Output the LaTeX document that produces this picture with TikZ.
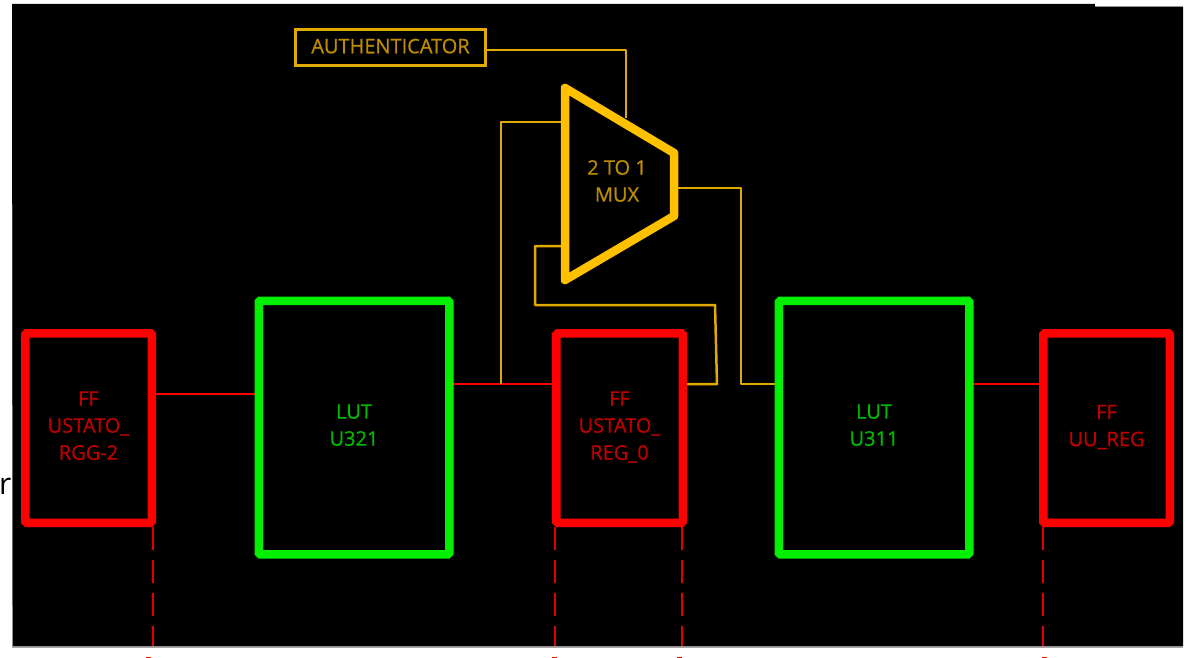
\documentclass[tikz,border=0pt]{standalone}
\usepackage{fontspec}
\setmainfont{Open Sans}
\newfontfamily\lblfam[FakeBold=0.7]{Open Sans}
\newcommand{\lbl}{\lblfam\fontsize{20}{27}\selectfont}
\definecolor{ffred}{RGB}{255,0,0}
\definecolor{ffredtxt}{RGB}{190,0,0}
\definecolor{lutgreen}{RGB}{0,240,0}
\definecolor{luttxt}{RGB}{0,185,0}
\definecolor{muxgold}{RGB}{255,192,0}
\definecolor{wiregold}{RGB}{225,170,0}
\definecolor{muxtxt}{RGB}{190,140,0}
\pgfdeclarelayer{sheet}
\pgfdeclarelayer{wires}
\pgfsetlayers{sheet,wires,main}
\begin{document}
\begin{tikzpicture}[x=1pt,y=-1pt,
  ffbox/.style={draw=ffred,line width=8.5pt,rounded corners=1.5pt,minimum width=126.5pt,minimum height=189.5pt,inner sep=0pt,outer sep=0pt,
     text=ffredtxt,align=center,font=\lbl},
  lutbox/.style={draw=lutgreen,line width=8.5pt,rounded corners=1.5pt,minimum width=190.5pt,minimum height=253.5pt,inner sep=0pt,outer sep=0pt,
     text=luttxt,align=center,font=\lbl},
  redwire/.style={draw=ffred,line width=2.5pt},
  goldwire/.style={draw=wiregold,line width=2.5pt,line join=round},
  clockline/.style={draw=ffred!90!black,line width=2.6pt,dash pattern=on 23pt off 10pt},
  tickmark/.style={draw=ffred,line width=1.5pt}
]
\useasboundingbox (0,0) rectangle (1188,658);
\begin{pgfonlayer}{sheet}
\fill[white] (0,0) rectangle (1188,658);
\fill[black!35] (12,4) rectangle (1183,647.5);
\fill[black] (12,4) -- (1095,4) -- (1095,7) -- (1183,7) -- (1183,646) -- (12.8,646) -- cycle;
\fill[white] (1095,0) rectangle (1188,5.8);
\end{pgfonlayer}
\node[font=\fontsize{30}{30}\selectfont,anchor=base west,inner sep=0pt,text=black] (stray) at (-1,494) {r};

\node[ffbox] (ffa) at (88.5,428) {FF\\USTATO\_\\RGG-2\\[-22pt]};
\node[lutbox] (luta) at (354,427.5) {LUT\\U321\\[-22pt]};
\node[ffbox] (ffb) at (619.5,428) {FF\\USTATO\_\\REG\_0\\[-22pt]};
\node[lutbox] (lutb) at (874,427.5) {LUT\\U311\\[-22pt]};
\node[ffbox] (ffc) at (1106.5,428) {FF\\UU\_REG\\[-22pt]};

\node[draw=wiregold,line width=2.5pt,minimum width=190pt,minimum height=36pt,inner sep=0pt,outer sep=0pt,text=muxtxt,
  font=\lbl] (auth) at (390.5,47.5) {\raisebox{3pt}{AUTHENTICATOR}};

\coordinate (mA) at (565,88);
\coordinate (mB) at (674,153);
\coordinate (mC) at (674,216);
\coordinate (mD) at (565,280);
\coordinate (j1) at (501,384);
\coordinate (k1) at (717,384);
\coordinate (k2) at (715,305);
\coordinate (k3) at (535,305);

\begin{pgfonlayer}{wires}
\draw[redwire] (ffa.east |- 0,394) -- (luta.west |- 0,394);
\draw[redwire] (luta.east |- 0,384) -- (ffb.west |- 0,384);
\draw[redwire] (lutb.east |- 0,384) -- (ffc.west |- 0,384);
\draw[goldwire] (auth.east |- 0,50) -| (626,118);
\draw[goldwire] (j1) |- (mA |- 0,122);
\draw[goldwire] (ffb.east |- 0,384) -- (k1) -- (k2) -- (k3) |- (mA |- 0,246);
\draw[goldwire] (mB |- 0,188) -| (741,384) -- (lutb.west |- 0,384);
\end{pgfonlayer}

\draw[draw=muxgold,line width=8.5pt,line join=round] (mA) -- (mB) -- (mC) -- (mD) -- cycle;
\node[text=muxtxt,align=center,inner sep=0pt,font=\lbl] (mux) at (617,181) {2 TO 1\\MUX};

\begin{pgfonlayer}{wires}
\draw[clockline] (153,527) -- (153,646);
\draw[clockline] (555,527) -- (555,646);
\draw[clockline] (682,527) -- (682,646);
\draw[clockline] (1043,527) -- (1043,646);
\end{pgfonlayer}
\draw[tickmark] (146,657.5) -- (151,657.5);
\draw[tickmark] (552,657.5) -- (557,657.5);
\draw[tickmark] (677,657.5) -- (682,657.5);
\draw[tickmark] (1042,657.5) -- (1047,657.5);
\end{tikzpicture}
\end{document}
